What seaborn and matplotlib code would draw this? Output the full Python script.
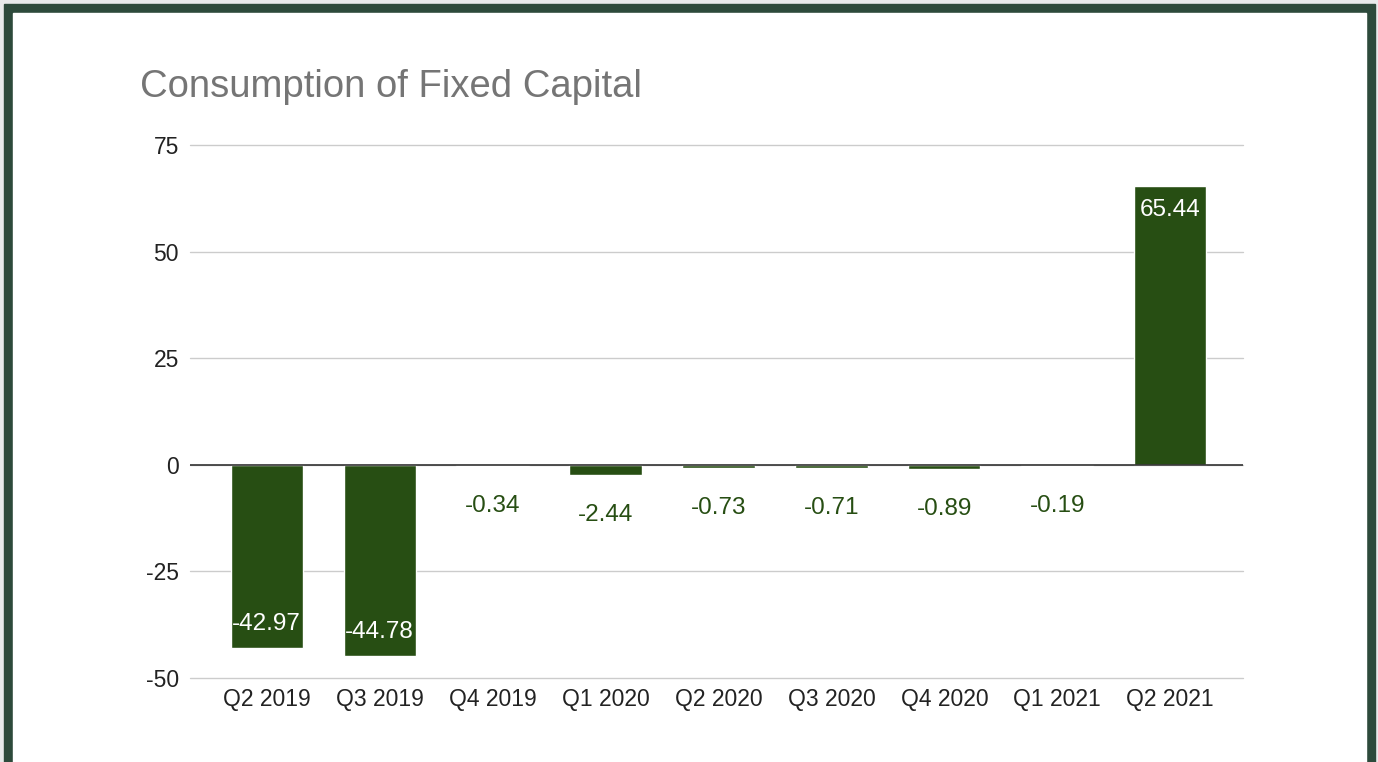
import matplotlib
matplotlib.use("Agg")
import matplotlib.pyplot as plt
from matplotlib.patches import Rectangle
import seaborn as sns
import pandas as pd

quarters = ["Q2 2019", "Q3 2019", "Q4 2019", "Q1 2020", "Q2 2020",
            "Q3 2020", "Q4 2020", "Q1 2021", "Q2 2021"]
values = [-42.97, -44.78, -0.34, -2.44, -0.73, -0.71, -0.89, -0.19, 65.44]
yticks = [-50, -25, 0, 25, 50, 75]

BAR = "#274e13"
W, H = 1378, 762

sns.set_theme(style="white")
plt.rcParams["font.family"] = ["Liberation Sans", "DejaVu Sans"]

df = pd.DataFrame({"quarter": quarters, "value": values})

fig = plt.figure(figsize=(W / 100, H / 100), dpi=100)
fig.patch.set_facecolor("#e8eaea")

# frame: dark green border with white card inside
fig.patches.append(Rectangle((4 / W, 0), (1375 - 4) / W, 1 - 4 / H,
                             transform=fig.transFigure, color="#2d4a3b", zorder=-2))
fig.patches.append(Rectangle((13 / W, 0), (1366 - 13) / W, 1 - 13 / H,
                             transform=fig.transFigure, color="white", zorder=-1))

ax = fig.add_axes([190 / W, 1 - 678 / H, (1243 - 190) / W, (678 - 145) / H])
ax.set_facecolor("none")

sns.barplot(data=df, x="quarter", y="value", color=BAR, saturation=1,
            width=0.64, ax=ax, zorder=2)

ax.set_xlim(-0.68, 8.645)
ax.set_ylim(-50, 75)
ax.set_yticks(yticks)
ax.set_yticklabels([str(t) for t in yticks])
ax.grid(axis="y", color="#cccccc", linewidth=1, zorder=0)
for gl in ax.get_ygridlines():
    gl.set_clip_on(False)
ax.axhline(0, color="#333333", linewidth=1.2, zorder=3)
for s in ax.spines.values():
    s.set_visible(False)
ax.tick_params(axis="both", length=0, labelsize=16.5, colors="#222222")
ax.tick_params(axis="y", pad=8)
ax.tick_params(axis="x", pad=7)
ax.set_xlabel("")
ax.set_ylabel("")

# data labels
px = 533 / 125  # pixels per unit
for i, v in enumerate(values):
    if abs(v) > 10:
        off = -24 if v > 0 else 24
        ax.text(i, v + off / px, f"{v:.2f}", ha="center", va="center",
                color="white", fontsize=17.5, zorder=4)
    else:
        ax.text(i, v - 40 / px, f"{v:.2f}", ha="center", va="center",
                color=BAR, fontsize=17.5, zorder=4)

fig.text(140 / W, 1 - 87 / H, "Consumption of Fixed Capital", ha="left",
         va="center", color="#757575", fontsize=27.5)

fig.savefig("out.png", dpi=100)
